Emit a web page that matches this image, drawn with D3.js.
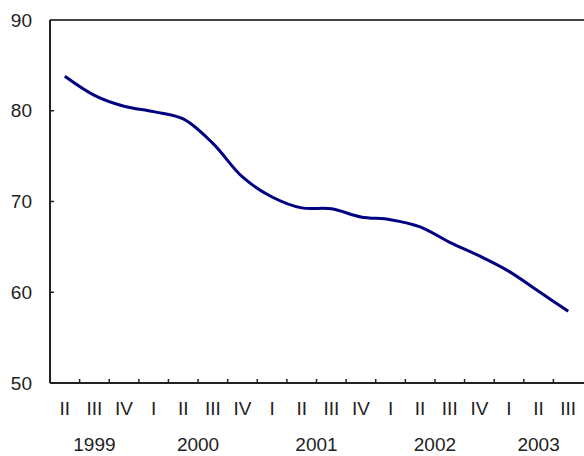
<!DOCTYPE html>
<html>
<head>
<meta charset="utf-8">
<script src="https://cdn.jsdelivr.net/npm/d3@7"></script>
<style>
  html, body { margin: 0; padding: 0; background: #fff; }
  svg { display: block; }
</style>
</head>
<body>
<div id="chart"></div>
<script>
// quarters from 1999 II to 2003 III
const quarterLabels = ["II", "III", "IV", "I", "II", "III", "IV", "I", "II", "III", "IV", "I", "II", "III", "IV", "I", "II", "III"];
const yearLabels = ["1999", "2000", "2001", "2002", "2003"];
const yearSpans = [[0, 2], [3, 6], [7, 10], [11, 14], [15, 17]]; // first/last quarter index per year
const values = [83.8, 81.7, 80.5, 79.9, 79.1, 76.4, 72.7, 70.5, 69.3, 69.2, 68.3, 68.0, 67.2, 65.5, 64.0, 62.3, 60.1, 57.9];
const yTicks = [50, 60, 70, 80, 90];

const width = 584;
const height = 456;
const margin = { top: 20, right: 1, bottom: 73, left: 50 };

const svg = d3.select("#chart")
    .append("svg")
    .attr("width", width)
    .attr("height", height);

const idx = d3.range(values.length);

const xScale = d3.scaleBand()
    .domain(idx)
    .range([margin.left, width - margin.right])
    .padding(0);

const yScale = d3.scaleLinear()
    .domain([50, 90])
    .range([height - margin.bottom, margin.top]);

const font = "'Liberation Sans', Arial, sans-serif";
const axisColor = "#222";

// top border
svg.append("line")
    .attr("x1", margin.left).attr("x2", width)
    .attr("y1", yScale(90)).attr("y2", yScale(90))
    .attr("stroke", "#444")
    .attr("stroke-width", 2);

// y axis line
svg.append("line")
    .attr("x1", margin.left).attr("x2", margin.left)
    .attr("y1", yScale(90)).attr("y2", yScale(50))
    .attr("stroke", axisColor)
    .attr("stroke-width", 2);

// x axis line
svg.append("line")
    .attr("x1", margin.left).attr("x2", width)
    .attr("y1", yScale(50)).attr("y2", yScale(50))
    .attr("stroke", axisColor)
    .attr("stroke-width", 2);

// y ticks (inward)
svg.selectAll(".ytick")
    .data(yTicks.filter(d => d > 50 && d < 90))
    .enter()
    .append("line")
    .attr("class", "ytick")
    .attr("x1", margin.left).attr("x2", margin.left + 4)
    .attr("y1", d => yScale(d)).attr("y2", d => yScale(d))
    .attr("stroke", axisColor)
    .attr("stroke-width", 1.5);

svg.selectAll(".ylabel")
    .data(yTicks)
    .enter()
    .append("text")
    .attr("class", "ylabel")
    .attr("x", 32)
    .attr("y", d => yScale(d))
    .attr("dy", "0.35em")
    .attr("text-anchor", "end")
    .style("font-family", font)
    .style("font-size", "19px")
    .style("fill", "#222")
    .text(d => d);

// x ticks at category boundaries (inward)
svg.selectAll(".xtick")
    .data(idx.slice(1))
    .enter()
    .append("line")
    .attr("class", "xtick")
    .attr("x1", d => xScale(d)).attr("x2", d => xScale(d))
    .attr("y1", yScale(50)).attr("y2", yScale(50) - 4)
    .attr("stroke", axisColor)
    .attr("stroke-width", 1.5);

// quarter labels
svg.selectAll(".qlabel")
    .data(idx)
    .enter()
    .append("text")
    .attr("class", "qlabel")
    .attr("x", d => xScale(d) + xScale.bandwidth() / 2)
    .attr("y", 408)
    .attr("dy", "0.35em")
    .attr("text-anchor", "middle")
    .style("font-family", font)
    .style("font-size", "19px")
    .style("fill", "#222")
    .text(d => quarterLabels[d]);

// year labels, centred under their quarters
svg.selectAll(".yearlabel")
    .data(yearLabels)
    .enter()
    .append("text")
    .attr("class", "yearlabel")
    .attr("x", (d, i) => (xScale(yearSpans[i][0]) + xScale(yearSpans[i][1]) + xScale.bandwidth()) / 2)
    .attr("y", 444)
    .attr("dy", "0.35em")
    .attr("text-anchor", "middle")
    .style("font-family", font)
    .style("font-size", "19px")
    .style("fill", "#222")
    .text(d => d);

// the smoothed line
const line = d3.line()
    .x(d => xScale(d) + xScale.bandwidth() / 2)
    .y(d => yScale(values[d]))
    .curve(d3.curveCatmullRom.alpha(0.5));

svg.append("path")
    .datum(idx)
    .attr("d", line)
    .attr("fill", "none")
    .attr("stroke", "#000080")
    .attr("stroke-width", 3)
    .attr("stroke-linejoin", "round");
</script>
</body>
</html>
